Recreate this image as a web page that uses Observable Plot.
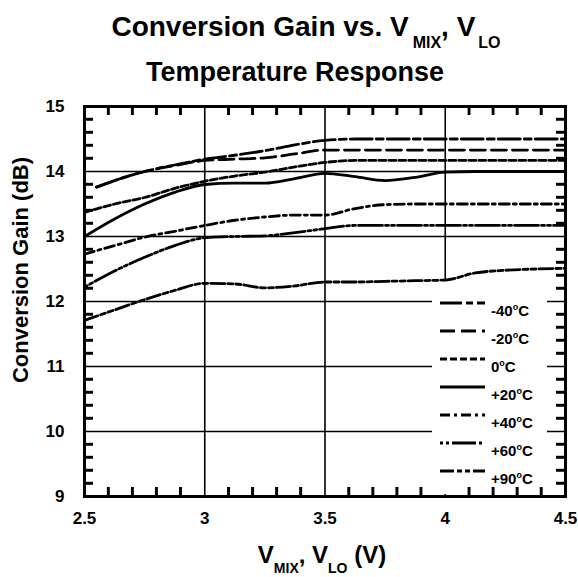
<!DOCTYPE html>
<html><head><meta charset="utf-8">
<script src="https://cdn.jsdelivr.net/npm/d3@7"></script>
<script src="https://cdn.jsdelivr.net/npm/@observablehq/plot@0.6"></script>
<style>
body{margin:0;background:#fff;}
#chart{position:relative;width:578px;height:577px;}
#chart svg{position:absolute;left:0;top:0;}
svg text{font-family:"Liberation Sans",Arial,sans-serif;font-weight:bold;}
</style></head><body><div id="chart"></div>
<script>
// ---- data ----
const voltage = [2.5, 2.625, 2.75, 2.875, 3.0, 3.125, 3.25, 3.375, 3.5, 3.625, 3.75, 3.875, 4.0, 4.125, 4.25, 4.375, 4.5];
const voltageCold = [2.55, 2.625, 2.75, 2.875, 3.0, 3.125, 3.25, 3.375, 3.5, 3.625, 3.75, 3.875, 4.0, 4.125, 4.25, 4.375, 4.5];
const seriesLabels = ["-40", "-20", "0", "+20", "+40", "+60", "+90"];
const gainM40 = [13.76, 13.86, 14.0, 14.1, 14.19, 14.25, 14.32, 14.41, 14.48, 14.5, 14.5, 14.5, 14.5, 14.5, 14.5, 14.5, 14.5];
const gainM20 = [13.76, 13.86, 14.0, 14.09, 14.17, 14.19, 14.21, 14.27, 14.33, 14.33, 14.33, 14.33, 14.33, 14.33, 14.33, 14.33, 14.33];
const gain0   = [13.37, 13.5, 13.6, 13.74, 13.85, 13.93, 13.99, 14.07, 14.14, 14.17, 14.17, 14.17, 14.17, 14.17, 14.17, 14.17, 14.17];
const gainP20 = [13.0, 13.27, 13.5, 13.68, 13.8, 13.82, 13.82, 13.89, 13.97, 13.92, 13.86, 13.91, 13.99, 14.0, 14.0, 14.0, 14.0];
const gainP40 = [12.73, 12.86, 12.99, 13.08, 13.17, 13.25, 13.3, 13.33, 13.33, 13.43, 13.49, 13.5, 13.5, 13.5, 13.5, 13.5, 13.5];
const gainP60 = [12.22, 12.47, 12.68, 12.86, 12.98, 13.0, 13.01, 13.06, 13.12, 13.17, 13.17, 13.17, 13.17, 13.17, 13.17, 13.17, 13.17];
const gainP90 = [11.71, 11.87, 12.03, 12.17, 12.28, 12.27, 12.21, 12.24, 12.3, 12.3, 12.31, 12.32, 12.33, 12.44, 12.48, 12.5, 12.51];
const xTicks = [2.5, 3, 3.5, 4, 4.5];
const yTicks = [9, 10, 11, 12, 13, 14, 15];
const xGridVals = [3, 3.5, 4];
const yGridVals = [10, 11, 12, 13, 14];
const xMinor = [2.6, 2.7, 2.8, 2.9, 3.1, 3.2, 3.3, 3.4, 3.6, 3.7, 3.8, 3.9, 4.1, 4.2, 4.3, 4.4];
const yMinor = [9.2, 9.4, 9.6, 9.8, 10.2, 10.4, 10.6, 10.8, 11.2, 11.4, 11.6, 11.8, 12.2, 12.4, 12.6, 12.8, 13.2, 13.4, 13.6, 13.8, 14.2, 14.4, 14.6, 14.8];

// ---- styles ----
const dashes = ["22,4,7,4", "15,6", "7,3", null, "10,4,3,4", "3,3,3,3,24,3", "14,3,5,3,5,3"];
const seriesValues = [gainM40, gainM20, gain0, gainP20, gainP40, gainP60, gainP90];
const seriesX = [voltageCold, voltageCold, voltage, voltage, voltage, voltage, voltage];

const series = seriesLabels.map((lab, i) => ({
  label: lab,
  dash: dashes[i],
  rows: seriesValues[i].map((g, j) => ({x: seriesX[i][j], y: g}))
}));

const W = 578, H = 577, mL = 84, mR = 13, mT = 106, mB = 81;
const innerW = W - mL - mR, innerH = H - mT - mB, TL = 9;

const marks = [
  Plot.ruleX(xGridVals, {stroke: "#000", strokeWidth: 1.6}),
  Plot.ruleY(yGridVals, {stroke: "#000", strokeWidth: 1.6}),
  ...series.map(s => Plot.line(s.rows, {x: "x", y: "y", stroke: "#000", strokeWidth: 2.8,
      strokeDasharray: s.dash || undefined, curve: "monotone-x"})),
  Plot.frame({stroke: "#000", strokeWidth: 3}),
  Plot.tickX(xMinor, {x: d => d, insetTop: innerH - TL, stroke: "#000", strokeWidth: 2.4}),
  Plot.tickX(xMinor, {x: d => d, insetBottom: innerH - TL, stroke: "#000", strokeWidth: 2.4}),
  Plot.tickY(yMinor, {y: d => d, insetRight: innerW - TL, stroke: "#000", strokeWidth: 2.4}),
  Plot.tickY(yMinor, {y: d => d, insetLeft: innerW - TL, stroke: "#000", strokeWidth: 2.4}),
  Plot.axisX(xTicks, {anchor: "bottom", tickSize: 0, tickPadding: 15, fontSize: 17, tickFormat: d => String(d), label: null}),
  Plot.axisY(yTicks, {anchor: "left", tickSize: 0, tickPadding: 20, fontSize: 17, tickFormat: d => String(d), label: null})
];

const svg = Plot.plot({
  width: W, height: H,
  marginLeft: mL, marginRight: mR, marginTop: mT, marginBottom: mB,
  style: {fontFamily: "Liberation Sans, Arial, sans-serif", fontWeight: "bold", color: "#000"},
  x: {domain: [2.5, 4.5]},
  y: {domain: [9, 15]},
  marks
});
document.getElementById("chart").appendChild(svg);

const s = d3.select(svg);

// legend background (covers grid, under curves)
const firstLine = svg.querySelector('g[aria-label="line"]');
const bg = document.createElementNS("http://www.w3.org/2000/svg", "rect");
bg.setAttribute("x", 432); bg.setAttribute("y", 281);
bg.setAttribute("width", 115); bg.setAttribute("height", 213);
bg.setAttribute("fill", "#fff");
if (firstLine) svg.insertBefore(bg, firstLine);

// legend
const legY0 = 303, legStep = 28;
series.forEach((d, i) => {
  const y = legY0 + i * legStep;
  s.append("line").attr("x1", 440).attr("x2", 485).attr("y1", y).attr("y2", y)
    .attr("stroke", "#000").attr("stroke-width", 2.8)
    .attr("stroke-dasharray", d.dash || null);
  const t = s.append("text").attr("x", 491).attr("y", y + 13).attr("text-anchor", "start")
    .attr("font-size", 15).attr("fill", "#000");
  t.append("tspan").text(d.label);
  t.append("tspan").attr("font-size", 9).attr("dy", -6).text("o");
  t.append("tspan").attr("dy", 6).text("C");
});

// titles
const t1 = s.append("text").attr("x", 306).attr("y", 36).attr("text-anchor", "middle")
  .attr("font-size", 28).attr("fill", "#000");
t1.append("tspan").text("Conversion Gain vs. V");
t1.append("tspan").attr("font-size", 16).attr("dx", 4).attr("dy", 12).text("MIX");
t1.append("tspan").attr("dy", -12).text(", V");
t1.append("tspan").attr("font-size", 16).attr("dx", 3).attr("dy", 12).text("LO");
s.append("text").attr("x", 295).attr("y", 81).attr("text-anchor", "middle").attr("font-size", 27).attr("fill", "#000")
  .text("Temperature Response");

// x label
const xl = s.append("text").attr("x", 322).attr("y", 563).attr("text-anchor", "middle").attr("font-size", 24).attr("fill", "#000");
xl.append("tspan").text("V");
xl.append("tspan").attr("font-size", 14).attr("dy", 10).text("MIX");
xl.append("tspan").attr("dy", -10).text(", V");
xl.append("tspan").attr("font-size", 14).attr("dy", 10).text("LO");
xl.append("tspan").attr("dy", -10).text(" (V)");

// y label
s.append("text").attr("transform", "translate(28,270) rotate(-90)").attr("text-anchor", "middle")
  .attr("font-size", 22).attr("fill", "#000").text("Conversion Gain (dB)");

// overlay layer with the inward minor ticks, placed with Plot's own scales
const sx = svg.scale("x"), sy = svg.scale("y");
const ov = d3.select("#chart").append("svg").attr("width", W).attr("height", H)
  .style("pointer-events", "none");
const gx0 = sx.apply(2.5), gx1 = sx.apply(4.5), gy0 = sy.apply(9), gy1 = sy.apply(15);
const seg = (a, b, c, d) => ov.append("path").attr("d", `M${a},${b}L${c},${d}`)
  .attr("stroke", "#000").attr("stroke-width", 2.4).attr("fill", "none");
xMinor.forEach(v => { const p = sx.apply(v); seg(p, gy0, p, gy0 - TL); seg(p, gy1, p, gy1 + TL); });
yMinor.forEach(v => { const p = sy.apply(v); seg(gx0, p, gx0 + TL, p); seg(gx1, p, gx1 - TL, p); });
</script></body></html>
